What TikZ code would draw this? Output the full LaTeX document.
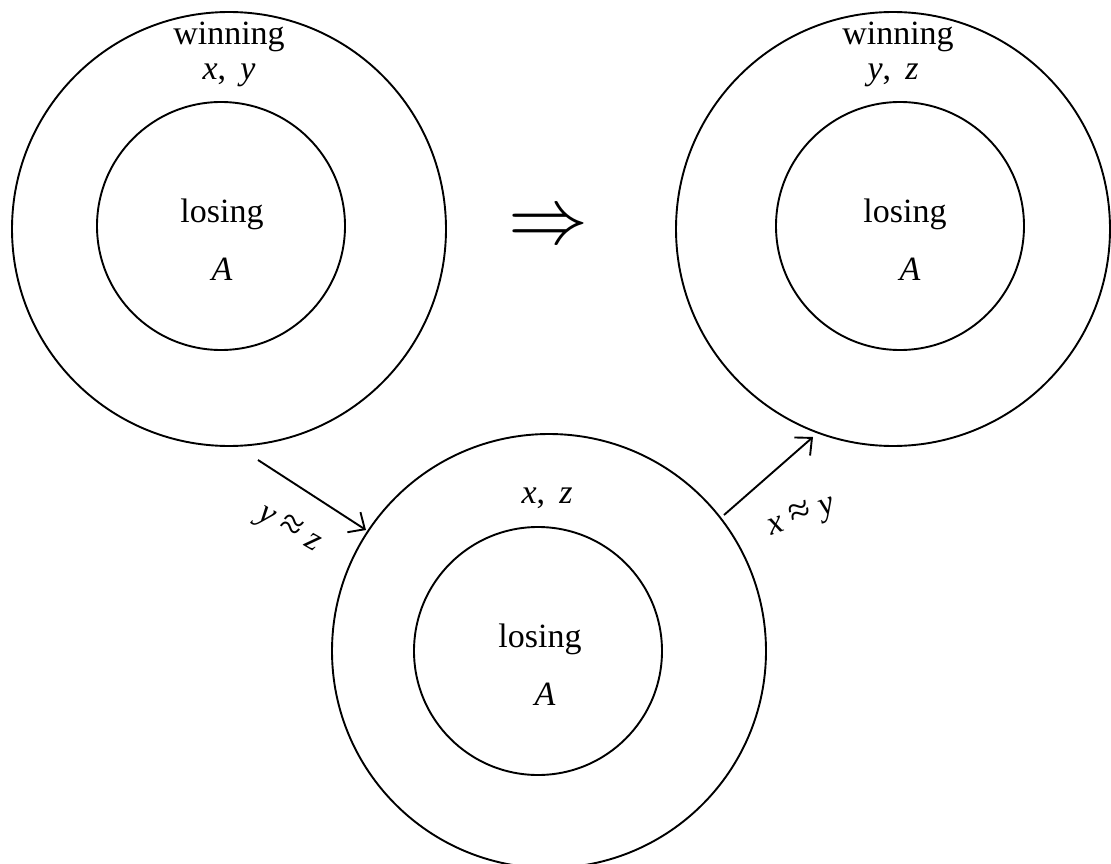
\documentclass[tikz,border=0pt]{standalone}
\usepackage{fontspec}
\setmainfont{Liberation Serif}
\usetikzlibrary{arrows.meta}
\newcommand{\bigapprox}{{\fontsize{40}{40}\selectfont ≈}}
\begin{document}
\begin{tikzpicture}[x=1pt,y=-1pt,
  ring/.style={draw,circle,line width=1.9pt,inner sep=0pt},
  outer/.style={ring,minimum size=434pt},
  inner/.style={ring,minimum size=248pt},
  lab/.style={font=\fontsize{34}{40}\selectfont,anchor=base,inner sep=0pt},
  rlab/.style={font=\fontsize{34}{40}\selectfont,inner sep=0pt},
  edge/.style={line width=1.9pt,-{Straight Barb[length=13pt,width=24pt,line width=1.9pt]}}]
\useasboundingbox (0,0) rectangle (1111,864);
% top-left
\node[outer] (o1) at (229,229) {};
\node[inner] (i1) at (221,226) {};
\node[lab] (w1) at (229,45) {winning};
\node[lab] (v1) at (229,80) {\textit{x}, \,\textit{y}};
\node[lab] (l1) at (222,222) {losing};
\node[lab] (a1) at (222,280) {\textit{A}};
% top-right
\node[outer] (o2) at (893,229) {};
\node[inner] (i2) at (900,226) {};
\node[lab] (w2) at (898,45) {winning};
\node[lab] (v2) at (893,80) {\textit{y}, \,\textit{z}};
\node[lab] (l2) at (905,222) {losing};
\node[lab] (a2) at (910,280) {\textit{A}};
% bottom
\node[outer] (o3) at (549,651) {};
\node[inner] (i3) at (538,651) {};
\node[lab] (v3) at (547,503) {\textit{x}, \,\textit{z}};
\node[lab] (l3) at (540,647) {losing};
\node[lab] (a3) at (545,705) {\textit{A}};
% implication
\node[scale=8,inner sep=0pt] (imp) at (548,229) {$\Rightarrow$};
% arrows
\coordinate (s1) at (258,460);
\coordinate (e1) at (366,530);
\coordinate (s2) at (724,515);
\coordinate (e2) at (813,437);
\draw[edge] (s1) -- (e1);
\draw[edge] (s2) -- (e2);
\node[rlab,rotate=-30] (t1) at (289,530) {\textit{y} \bigapprox{} \textit{z}};
\node[rlab,rotate=20] (t2) at (802,517) {\textit{x} \bigapprox{} \textit{y}};
\end{tikzpicture}
\end{document}
